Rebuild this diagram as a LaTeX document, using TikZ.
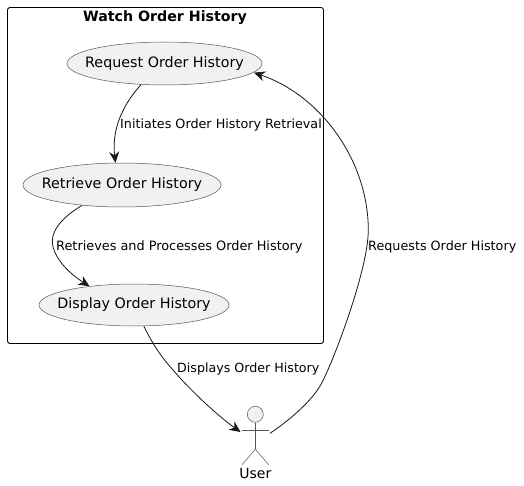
\documentclass[tikz,border=0pt]{standalone}
\usepackage{fontspec}
\setmainfont{DejaVu Sans}
\usetikzlibrary{shapes.geometric,arrows.meta}
\definecolor{puml}{HTML}{181818}
\definecolor{pthin}{HTML}{555555}
\definecolor{pfill}{HTML}{F1F1F1}
\newcommand{\ctext}[1]{\smash{\makebox[0pt]{\raisebox{-3.6pt}{#1}}}}
\tikzset{
  usecase/.style={ellipse,draw=pthin,line width=0.5pt,fill=pfill,inner sep=0pt,font=\fontsize{14.3}{16}\selectfont,text=black},
  flow/.style={draw=puml,line width=0.8pt,-{Stealth[length=11pt,width=10pt,inset=3.5pt]}},
  lbl/.style={anchor=base west,inner sep=0pt,font=\fontsize{12.75}{15}\selectfont,text=black},
  frameb/.style={draw=black,line width=0.9pt,rounded corners=2.5pt},
  actorline/.style={draw=pthin,line width=0.5pt}
}
\begin{document}
\begin{tikzpicture}[x=1pt,y=-1pt]
\useasboundingbox (0,0) rectangle (524,486);
\fill[white] (0,0) rectangle (524,486);
\node[frameb,rectangle,minimum width=316pt,minimum height=336pt,inner sep=0pt] (pkg) at (165.5,175.5) {};
\node[anchor=base,inner sep=0pt,font=\fontsize{14.2}{16}\selectfont\bfseries] (title) at (165,22) {Watch Order History};
\node[usecase,minimum width=195pt,minimum height=43pt] (req) at (164.5,63.5) {\ctext{Request Order History}};
\node[usecase,minimum width=198pt,minimum height=44pt] (ret) at (122,185) {\ctext{Retrieve Order History}};
\node[usecase,minimum width=190pt,minimum height=42pt] (dis) at (134,305) {\ctext{Display Order History}};
% actor
\node[circle,draw=pthin,line width=0.5pt,fill=pfill,minimum size=16pt,inner sep=0pt] (head) at (255.3,414.3) {};
\coordinate (hip) at (255.3,449.3);
\coordinate (armL) at (242,430.3);
\coordinate (armR) at (268.7,430.3);
\coordinate (legL) at (242,464.7);
\coordinate (legR) at (268.7,464.7);
\draw[actorline] (head.south) -- (hip);
\draw[actorline] (armL) -- (armR);
\draw[actorline] (legL) -- (hip) -- (legR);
\node[anchor=base,inner sep=0pt,font=\fontsize{14}{16}\selectfont] (user) at (255.3,478) {User};
\coordinate (uin) at (240.5,432);
\coordinate (uout) at (270,433.3);
% connectors
\draw[flow] (req.222) .. controls (127,100) and (111,125) .. (115.5,162.8);
\draw[flow] (ret.207) .. controls (66,215) and (52,228) .. (52.3,241.7)
  .. controls (53,258) and (70,274) .. (89.5,286.2);
\draw[flow] (dis.295) .. controls (155,349) and (165,361) .. (173,370)
  .. controls (190,390) and (218,416) .. (uin);
\draw[flow] (uout) .. controls (290,420) and (313,400) .. (321.7,383)
  .. controls (333,362) and (368.3,270) .. (368.3,230)
  .. controls (368.3,160) and (320,95) .. (254,72.7);
% labels
\node[lbl] (l1) at (120,129) {Initiates Order History Retrieval};
\node[lbl,font=\fontsize{12.85}{15}\selectfont] (l2) at (56,250) {Retrieves and Processes Order History};
\node[lbl,font=\fontsize{12.65}{15}\selectfont] (l3) at (177,372) {Displays Order History};
\node[lbl] (l4) at (368,250) {Requests Order History};
\end{tikzpicture}
\end{document}
